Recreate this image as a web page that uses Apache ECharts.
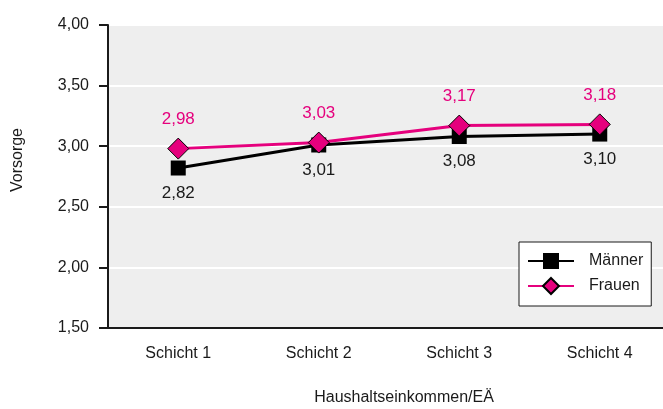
<!DOCTYPE html>
<html>
<head>
<meta charset="utf-8">
<script src="https://cdn.jsdelivr.net/npm/echarts@6/dist/echarts.min.js"></script>
<style>
  html, body { margin: 0; padding: 0; background: #fff; }
  #chart { width: 663px; height: 409px; }
</style>
</head>
<body>
<div id="chart"></div>
<script>
// Daten
const categories = ['Schicht 1', 'Schicht 2', 'Schicht 3', 'Schicht 4'];
const maenner = [2.82, 3.01, 3.08, 3.10];
const frauen = [2.98, 3.03, 3.17, 3.18];
const yTicks = { min: 1.5, max: 4, interval: 0.5 };

const FONT = '"Liberation Sans", Arial, sans-serif';
const PINK = '#e5007d';
const INK = '#1a1a1a';

const fmt = (v) => Number(v).toFixed(2).replace('.', ',');

const chart = echarts.init(document.getElementById('chart'), null, { renderer: 'canvas' });

chart.setOption({
  animation: false,
  textStyle: { fontFamily: FONT },
  // Zeichenfläche läuft rechts über den Bildrand hinaus
  grid: {
    show: true,
    left: 108,
    top: 25,
    width: 562,
    height: 303,
    outerBoundsMode: 'none',
    containLabel: false,
    backgroundColor: '#eeeeee',
    borderColor: INK,
    borderWidth: 2,
  },
  legend: {
    orient: 'vertical',
    left: 519,
    top: 242,
    padding: [11, 8, 11, 8],
    itemWidth: 46,
    itemHeight: 20,
    itemGap: 8,
    backgroundColor: '#fff',
    borderColor: INK,
    borderWidth: 1,
    textStyle: { fontSize: 16, color: INK, fontFamily: FONT, padding: [0, 0, 0, 10] },
    data: ['Männer', 'Frauen'],
  },
  xAxis: {
    type: 'category',
    data: categories,
    axisLine: { lineStyle: { color: INK, width: 2 } },
    axisTick: { length: 8, lineStyle: { color: INK, width: 1 } },
    axisLabel: { fontSize: 16, color: INK, margin: 18, fontFamily: FONT },
    splitLine: { show: false },
  },
  yAxis: {
    type: 'value',
    min: yTicks.min,
    max: yTicks.max,
    interval: yTicks.interval,
    axisLine: { show: true, lineStyle: { color: INK, width: 2 } },
    axisTick: { show: true, length: 9, lineStyle: { color: INK, width: 2 } },
    axisLabel: { fontSize: 16, color: INK, margin: 19, fontFamily: FONT, formatter: fmt },
    splitLine: { lineStyle: { color: '#ffffff', width: 2 } },
  },
  graphic: [
    {
      type: 'text',
      x: 404,
      y: 398,
      style: {
        text: 'Haushaltseinkommen/EÄ',
        font: '16px ' + FONT,
        fill: INK,
        align: 'center',
        verticalAlign: 'middle',
      },
    },
    {
      type: 'text',
      x: 18,
      y: 160,
      rotation: Math.PI / 2,
      style: {
        text: 'Vorsorge',
        font: '16px ' + FONT,
        fill: INK,
        align: 'center',
        verticalAlign: 'middle',
      },
    },
  ],
  series: [
    {
      name: 'Männer',
      type: 'line',
      data: maenner,
      symbol: 'rect',
      symbolSize: 15,
      color: '#000',
      lineStyle: { color: '#000', width: 3 },
      itemStyle: { color: '#000' },
      label: {
        show: true,
        position: 'bottom',
        distance: 9,
        fontSize: 17,
        color: INK,
        fontFamily: FONT,
        formatter: (p) => fmt(p.value),
      },
    },
    {
      name: 'Frauen',
      type: 'line',
      data: frauen,
      symbol: 'diamond',
      symbolSize: 21,
      color: PINK,
      lineStyle: { color: PINK, width: 3 },
      itemStyle: { color: PINK, borderColor: '#000', borderWidth: 1 },
      label: {
        show: true,
        position: 'top',
        distance: 10,
        fontSize: 17,
        color: PINK,
        fontFamily: FONT,
        formatter: (p) => fmt(p.value),
      },
    },
  ],
});
</script>
</body>
</html>
